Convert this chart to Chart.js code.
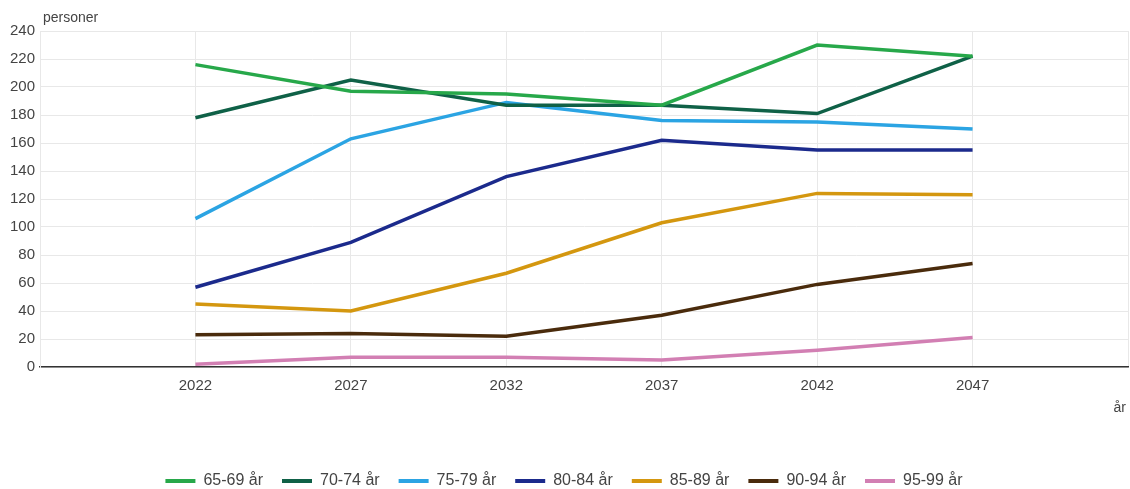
<!DOCTYPE html>
<html>
<head>
<meta charset="utf-8">
<script src="https://cdn.jsdelivr.net/npm/chart.js@4"></script>
<style>
  html, body { margin: 0; padding: 0; background: #fff; }
  #wrap { width: 1130px; height: 489px; }
</style>
</head>
<body>
<div id="wrap"><canvas id="myChart"></canvas></div>
<script>
// data
const years = [2022, 2027, 2032, 2037, 2042, 2047];
const yTicks = [0, 20, 40, 60, 80, 100, 120, 140, 160, 180, 200, 220, 240];

const age6569 = [216, 197, 195, 187, 230, 222];
const age7074 = [178, 205, 187, 187, 181, 222];
const age7579 = [106, 163, 189, 176, 175, 170];
const age8084 = [57, 89, 136, 162, 155, 155];
const age8589 = [45, 40, 67, 103, 124, 123];
const age9094 = [23, 24, 22, 37, 59, 74];
const age9599 = [2, 7, 7, 5, 12, 21];

const seriesNames = ["65-69 år", "70-74 år", "75-79 år", "80-84 år", "85-89 år", "90-94 år", "95-99 år"];
const seriesData = [age6569, age7074, age7579, age8084, age8589, age9094, age9599];
const seriesColors = ["#27a84a", "#0f6147", "#2ba4e3", "#1b2a8c", "#d4970f", "#4a2b0c", "#d27fb3"];

const yTitle = "personer";
const xTitle = "år";

const textColor = "#444";
const gridColor = "#e8e8e8";
const fontFam = "'Liberation Sans', Arial, sans-serif";

var datasets = [];
for (var i = 0; i < seriesNames.length; i++) {
	datasets.push({
		label: seriesNames[i],
		data: years.map((y, j) => ({ x: y, y: seriesData[i][j] })),
		borderColor: seriesColors[i],
		backgroundColor: seriesColors[i],
		borderWidth: 3.5,
		pointRadius: 0,
		tension: 0
	});
}

// axis titles placed like the original (horizontal, corners)
const axisTitles = {
	id: 'axisTitles',
	afterDraw(chart) {
		const ctx = chart.ctx;
		const area = chart.chartArea;
		ctx.save();
		ctx.fillStyle = textColor;
		ctx.font = "14px " + fontFam;
		ctx.textBaseline = 'middle';
		ctx.textAlign = 'left';
		ctx.fillText(yTitle, area.left + 3, 18);
		ctx.textAlign = 'right';
		ctx.fillText(xTitle, area.right - 2, 408);
		ctx.restore();
	}
};

Chart.defaults.font.family = fontFam;
Chart.defaults.font.size = 15;
Chart.defaults.color = textColor;

new Chart("myChart", {
	type: "line",
	data: { datasets: datasets },
	options: {
		responsive: true,
		maintainAspectRatio: false,
		animation: false,
		layout: { padding: { top: 31, right: 2, left: 0, bottom: -10 } },
		scales: {
			x: {
				type: 'linear',
				min: 2017,
				max: 2052,
				afterBuildTicks: function(scale) {
					scale.ticks = years.concat([2052]).map(v => ({ value: v }));
				},
				afterFit: function(scale) {
					scale.height = 87;
					scale.paddingLeft = 0;
					scale.paddingRight = 0;
				},
				ticks: {
					padding: 10,
					maxRotation: 0,
					color: textColor,
					callback: function(v) { return years.indexOf(v) >= 0 ? String(v) : ''; }
				},
				grid: { color: gridColor, drawTicks: false },
				border: { color: "#333", width: 1.5 }
			},
			y: {
				min: 0,
				max: 240,
				afterBuildTicks: function(scale) {
					scale.ticks = yTicks.map(v => ({ value: v }));
				},
				afterFit: function(scale) { scale.width = 40; },
				ticks: { padding: 5, color: textColor },
				grid: { color: gridColor, drawTicks: false },
				border: { color: gridColor }
			}
		},
		plugins: {
			legend: {
				position: 'bottom',
				labels: {
					boxWidth: 30,
					boxHeight: 4,
					padding: 19,
					color: textColor,
					font: { size: 16 },
					generateLabels: function(chart) {
						return chart.data.datasets.map((ds, i) => ({
							text: ds.label,
							fillStyle: ds.borderColor,
							strokeStyle: ds.borderColor,
							lineWidth: 0,
							hidden: false,
							datasetIndex: i,
							fontColor: textColor
						}));
					}
				}
			},
			tooltip: { enabled: false }
		}
	},
	plugins: [axisTitles]
});
</script>
</body>
</html>
